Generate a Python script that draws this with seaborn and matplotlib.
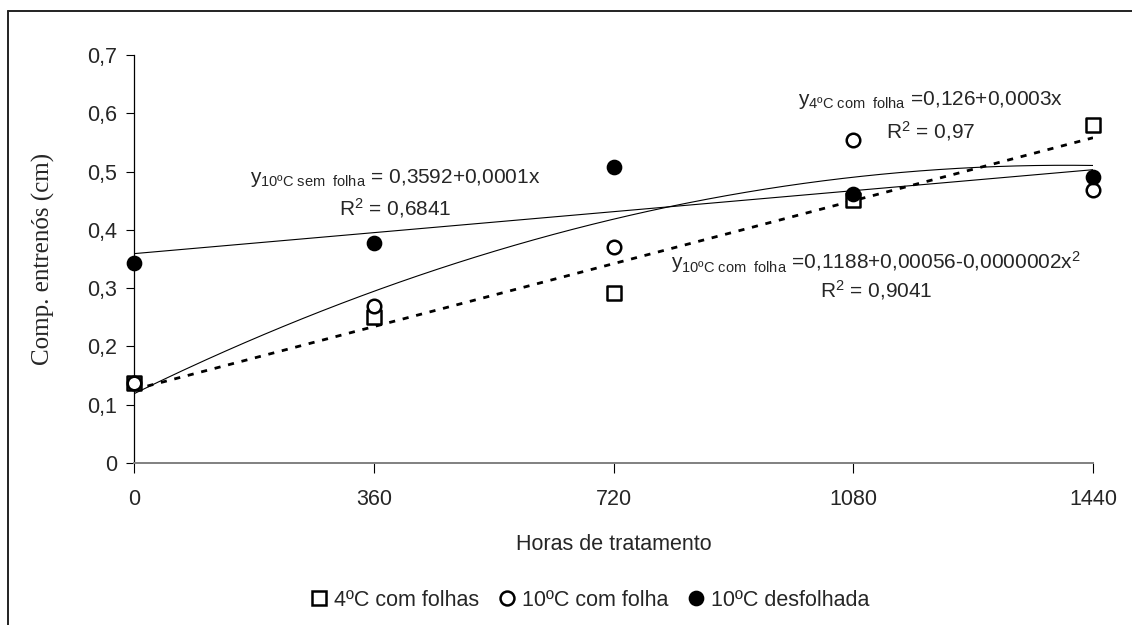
import numpy as np
import pandas as pd
import matplotlib
matplotlib.use("Agg")
import matplotlib.pyplot as plt
from matplotlib.lines import Line2D
import seaborn as sns

# ---- data ----
hours = [0, 360, 720, 1080, 1440]
c4_com_folhas = [0.137, 0.250, 0.292, 0.452, 0.580]
c10_com_folha = [0.137, 0.270, 0.371, 0.555, 0.468]
c10_desfolhada = [0.343, 0.377, 0.508, 0.462, 0.490]
series_names = ["4ºC com folhas", "10ºC com folha", "10ºC desfolhada"]

# trend-line coefficients as printed on the chart
lin_sem_folha = [0.3592, 0.0001]          # 10ºC sem folha (linear)
lin_4c = [0.126, 0.0003]                  # 4ºC com folha (linear, dashed)
quad_10c = [0.1188, 0.00056, -0.0000002]  # 10ºC com folha (quadratic)

x_ticks = [0, 360, 720, 1080, 1440]
x_tick_labels = ["0", "360", "720", "1080", "1440"]
y_ticks = [0, 0.1, 0.2, 0.3, 0.4, 0.5, 0.6, 0.7]
y_tick_labels = ["0", "0,1", "0,2", "0,3", "0,4", "0,5", "0,6", "0,7"]

sns.set_theme(style="white")
plt.rcParams["font.family"] = ["Liberation Sans", "DejaVu Sans"]
plt.rcParams["mathtext.fontset"] = "custom"
plt.rcParams["mathtext.rm"] = "Liberation Sans"
plt.rcParams["mathtext.it"] = "Liberation Sans"

fig = plt.figure(figsize=(11.32, 6.25), dpi=100)
ax = fig.add_axes([134 / 1132, 1 - 463 / 625, (1093 - 134) / 1132, (463 - 55) / 625])

df = pd.DataFrame({
    "hours": hours * 3,
    "value": c4_com_folhas + c10_com_folha + c10_desfolhada,
    "serie": [series_names[0]] * 5 + [series_names[1]] * 5 + [series_names[2]] * 5,
})

# ---- trend lines ----
xs = np.linspace(hours[0], hours[-1], 200)
ax.plot(xs, lin_sem_folha[0] + lin_sem_folha[1] * xs, color="black", lw=0.8, zorder=2)
ax.plot(xs, quad_10c[0] + quad_10c[1] * xs + quad_10c[2] * xs ** 2, color="black", lw=0.8, zorder=2)
ax.plot(xs, lin_4c[0] + lin_4c[1] * xs, color="black", lw=2.0, dashes=(2.2, 2.8), zorder=2)

# ---- points ----
styles = {
    series_names[0]: dict(marker="s", facecolor="white", s=95),
    series_names[1]: dict(marker="o", facecolor="white", s=95),
    series_names[2]: dict(marker="o", facecolor="black", s=90),
}
for name in series_names:
    sub = df[df["serie"] == name]
    st = styles[name]
    sns.scatterplot(data=sub, x="hours", y="value", ax=ax, marker=st["marker"],
                    s=st["s"], facecolor=st["facecolor"], edgecolor="black",
                    linewidth=1.8, zorder=3, clip_on=False, legend=False)

ax.set_xlim(0, 1440)
ax.set_ylim(0, 0.7)
ax.set_xticks(x_ticks)
ax.set_xticklabels(x_tick_labels, fontsize=15.5)
ax.set_yticks(y_ticks)
ax.set_yticklabels(y_tick_labels, fontsize=15.5)
ax.tick_params(axis="x", direction="out", length=7, width=0.8, color="black", pad=12, bottom=True)
ax.tick_params(axis="y", direction="out", length=6, width=0.8, color="black", pad=6, left=True)

for side in ["top", "right"]:
    ax.spines[side].set_visible(False)
ax.spines["left"].set_color("black")
ax.spines["left"].set_linewidth(0.9)
ax.spines["bottom"].set_color("#808080")
ax.spines["bottom"].set_linewidth(1.4)
ax.grid(False)

ax.set_xlabel("Horas de tratamento", fontsize=15.5)
ax.xaxis.set_label_coords(0.5, -0.175)
ax.xaxis.label.set_va("top")
ax.set_ylabel("Comp. entrenós (cm)", fontsize=18, family=["Liberation Serif", "DejaVu Serif"])
ax.yaxis.set_label_coords(-0.082, 0.5)

# ---- equations ----
eq_fs = 15
ax.text(392, 0.480, r"y$_{\mathregular{10ºC\ sem\ \ folha}}$ = 0,3592+0,0001x",
        ha="center", va="baseline", fontsize=eq_fs)
ax.text(392, 0.425, r"R$^{\mathregular{2}}$ = 0,6841", ha="center", va="baseline", fontsize=eq_fs)
ax.text(1196, 0.614, r"y$_{\mathregular{4ºC\ com\ \ folha}}$ =0,126+0,0003x",
        ha="center", va="baseline", fontsize=eq_fs)
ax.text(1196, 0.557, r"R$^{\mathregular{2}}$ = 0,97", ha="center", va="baseline", fontsize=eq_fs)
ax.text(1114, 0.334, r"y$_{\mathregular{10ºC\ com\ \ folha}}$ =0,1188+0,00056-0,0000002x$^{\mathregular{2}}$",
        ha="center", va="baseline", fontsize=eq_fs)
ax.text(1114, 0.285, r"R$^{\mathregular{2}}$ = 0,9041", ha="center", va="baseline", fontsize=eq_fs)

# ---- legend ----
handles = [
    Line2D([], [], ls="none", marker="s", markersize=10, markerfacecolor="white",
           markeredgecolor="black", markeredgewidth=1.8),
    Line2D([], [], ls="none", marker="o", markersize=10, markerfacecolor="white",
           markeredgecolor="black", markeredgewidth=1.8),
    Line2D([], [], ls="none", marker="o", markersize=9.5, markerfacecolor="black",
           markeredgecolor="black", markeredgewidth=1.8),
]
fig.legend(handles, series_names, loc="center", bbox_to_anchor=(590 / 1132, 1 - 600 / 625),
           ncol=3, frameon=False, fontsize=15.5, handlelength=0.8, handletextpad=0.3,
           columnspacing=0.9, borderpad=0)

# ---- outer frame (left and top edges visible) ----
fx = 8 / 1132
fy = 1 - 11 / 625
fig.add_artist(Line2D([fx, fx], [0, fy], transform=fig.transFigure, color="#222222", lw=1.4))
fig.add_artist(Line2D([fx, 1], [fy, fy], transform=fig.transFigure, color="#222222", lw=1.4))

fig.savefig("out.png", dpi=100, facecolor="white")
